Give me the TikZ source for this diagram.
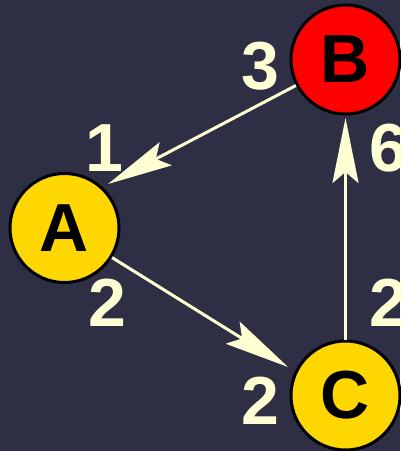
\documentclass[tikz,border=0pt]{standalone}
\usepackage{fontspec}
\setmainfont{Liberation Sans}
\usetikzlibrary{arrows.meta}
\definecolor{bgc}{HTML}{2E2E44}
\definecolor{cream}{HTML}{FFFFD4}
\definecolor{gold}{HTML}{FFD700}
\definecolor{redn}{HTML}{FF0000}
\tikzset{
  vtx/.style={circle, draw=black, line width=3pt, minimum size=109pt, inner sep=0pt,
    font=\fontsize{68}{68}\selectfont\bfseries, text=black},
  lbl/.style={inner sep=0pt, text=cream, font=\fontsize{68}{68}\selectfont\bfseries},
  arr/.style={draw=cream, line width=3pt,
    -{Stealth[length=65pt, width=26pt, inset=11pt, fill=cream]}}
}
\begin{document}
\begin{tikzpicture}[x=1pt,y=-1pt]
\fill[bgc] (0,0) rectangle (400,451);
\useasboundingbox (0,0) rectangle (400,451);
\node[vtx, fill=redn] (B) at (345.5,59.5) {B};
\node[vtx, fill=gold] (A) at (64.5,228) {A};
\node[vtx, fill=gold] (C) at (345.5,395.5) {C};
\coordinate (tAB) at (108,184);
\coordinate (tAC) at (288,367);
\coordinate (tCB) at (345.5,118);
\draw[arr] (B) -- (tAB);
\draw[arr] (A) -- (tAC);
\draw[arr] (C) -- (tCB);
\node[lbl] (l3) at (260,66) {3};
\node[lbl] (l1) at (104,148) {1};
\node[lbl] (l6) at (388,148) {6};
\node[lbl] (l2a) at (107,303) {2};
\node[lbl] (l2c) at (260,401) {2};
\node[lbl] (l2r) at (388,303) {2};
\end{tikzpicture}
\end{document}
